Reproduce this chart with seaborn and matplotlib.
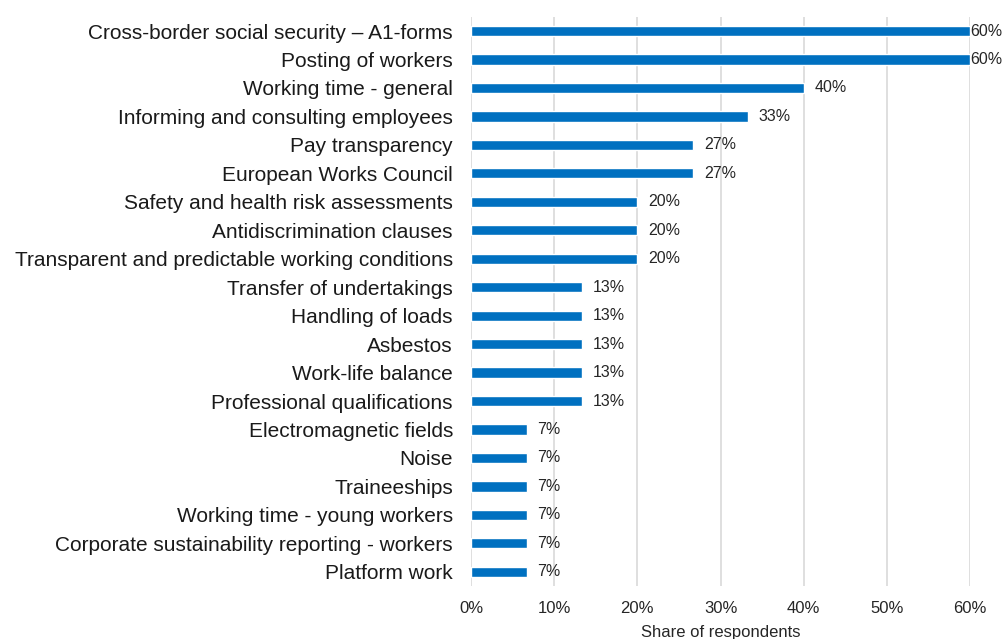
import matplotlib
matplotlib.use("Agg")
import matplotlib.pyplot as plt
import seaborn as sns
import pandas as pd

categories = [
    "Cross-border social security \u2013 A1-forms",
    "Posting of workers",
    "Working time - general",
    "Informing and consulting employees",
    "Pay transparency",
    "European Works Council",
    "Safety and health risk assessments",
    "Antidiscrimination clauses",
    "Transparent and predictable working conditions",
    "Transfer of undertakings",
    "Handling of loads",
    "Asbestos",
    "Work-life balance",
    "Professional qualifications",
    "Electromagnetic fields",
    "Noise",
    "Traineeships",
    "Working time - young workers",
    "Corporate sustainability reporting - workers",
    "Platform work",
]
shares = [60.0, 60.0, 40.0, 33.3, 26.7, 26.7, 20.0, 20.0, 20.0,
          13.3, 13.3, 13.3, 13.3, 13.3,
          6.7, 6.7, 6.7, 6.7, 6.7, 6.7]
x_ticks = [0, 10, 20, 30, 40, 50, 60]

df = pd.DataFrame({"category": categories, "share": shares})

sns.set_theme(style="white")
plt.rcParams["font.family"] = ["Liberation Sans", "DejaVu Sans"]

fig = plt.figure(figsize=(10.05, 6.39), dpi=100)
ax = fig.add_axes([0.4687, 0.0829, 0.4965, 0.8908])

sns.barplot(data=df, x="share", y="category", orient="h", color="#0070C0",
            saturation=1, width=0.36, ax=ax)

ax.set_xlim(0, 60)
ax.set_ylim(len(categories) - 0.5, -0.5)
ax.set_xticks(x_ticks)
ax.set_xticklabels([f"{t}%" for t in x_ticks], fontsize=12, color="#262626")
ax.tick_params(axis="x", length=0, pad=11)
ax.tick_params(axis="y", length=0, pad=13, labelsize=15, labelcolor="#1a1a1a")
ax.xaxis.grid(True, color="#d9d9d9", linewidth=1.2)
ax.set_axisbelow(True)
for s in ax.spines.values():
    s.set_visible(False)
ax.set_ylabel("")
ax.set_xlabel("Share of respondents", fontsize=12, color="#262626", labelpad=6)

for i, v in enumerate(shares):
    off = 0.05 if v >= 60 else 1.3
    ax.text(v + off, i, f"{v:.0f}%", va="center", ha="left",
            fontsize=11.5, color="#262626", clip_on=False)

fig.savefig("out.png", dpi=100)
